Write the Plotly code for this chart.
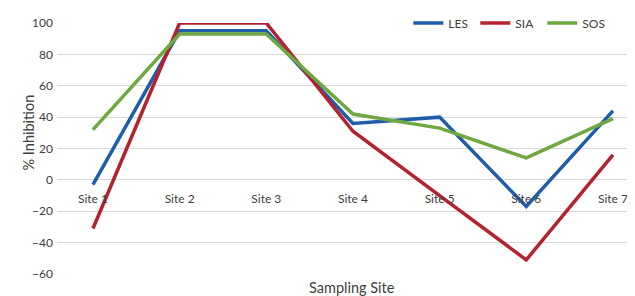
import plotly.graph_objects as go

sites = ["Site 1", "Site 2", "Site 3", "Site 4", "Site 5", "Site 6", "Site 7"]
les = [-3, 95, 95, 36, 40, -17, 44]
sia = [-31, 100, 100, 31, -10, -51, 16]
sos = [32, 93, 93, 42, 33, 14, 39]
y_ticks = [-60, -40, -20, 0, 20, 40, 60, 80, 100]

FONT = "Lato, 'Open Sans', sans-serif"
TXT = "#404040"

fig = go.Figure()
for name, vals, col in [("LES", les, "#1F5CAA"), ("SIA", sia, "#B3222E"), ("SOS", sos, "#6EA840")]:
    fig.add_trace(go.Scatter(x=list(range(len(sites))), y=vals, name=name, mode="lines",
                             line=dict(color=col, width=3.5)))

ymin, ymax = -60, 100
W, H, T, B, L, R = 627, 288, 4, 22, 49, 3
plot_h = H - T - B
dom_top = (H - B - 15) / plot_h
zero_frac = (0 - ymin) / (ymax - ymin) * dom_top

fig.update_layout(
    width=W, height=H,
    margin=dict(l=L, r=R, t=T, b=B, autoexpand=False),
    paper_bgcolor="white", plot_bgcolor="white",
    font=dict(family=FONT, size=12, color=TXT),
    showlegend=True,
    legend=dict(orientation="h", x=0.611, xanchor="left", y=dom_top, yanchor="middle",
                bgcolor="white", font=dict(size=12, color=TXT),
                entrywidth=22, tracegroupgap=0),
    xaxis=dict(range=[-0.415, 6.22], tickmode="array", tickvals=list(range(len(sites))),
               ticktext=sites, showgrid=False, zeroline=False, showline=False,
               anchor="free", position=zero_frac, ticks="", ticklabelstandoff=10,
               automargin=False, tickfont=dict(size=12, color=TXT)),
    yaxis=dict(range=[ymin, ymax], domain=[0, dom_top], tickvals=y_ticks, showgrid=True,
               gridcolor="#D9D9D9", gridwidth=1, zeroline=True, zerolinecolor="#D9D9D9",
               zerolinewidth=1, showline=False, ticks="", automargin=False,
               tickfont=dict(size=12, color=TXT), ticklabelstandoff=3),
    annotations=[
        dict(text="Sampling Site", xref="paper", yref="paper", x=0.513, y=0, yshift=-13,
             showarrow=False, font=dict(size=14.5, color=TXT), yanchor="middle"),
        dict(text="% Inhibition", xref="paper", yref="paper", x=0, xshift=-40,
             y=(H - B - 125) / plot_h, textangle=-90, showarrow=False,
             font=dict(size=14.5, color=TXT)),
    ],
)

fig.write_html("out.html")
